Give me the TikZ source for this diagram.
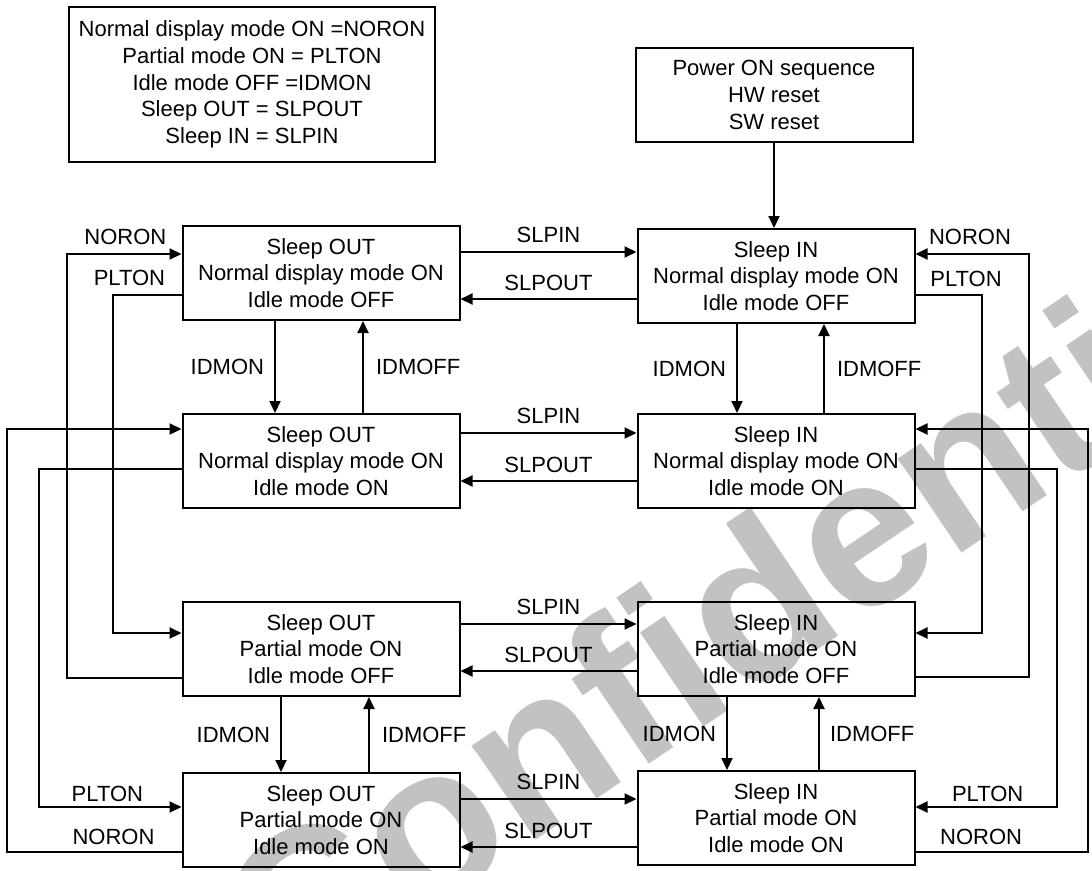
\documentclass[tikz,border=0pt]{standalone}
\usepackage{fontspec}
\setmainfont{Liberation Sans}
\usetikzlibrary{arrows.meta}

\begin{document}
\begin{tikzpicture}[x=1pt,y=-1pt,line width=2pt,>={Triangle[length=12pt,width=11pt]},
  every node/.style={font=\fontsize{22}{26.7}\selectfont,inner sep=2pt},
  state/.style={draw,align=center,minimum width=277pt,minimum height=94pt}]
\useasboundingbox (0,0) rectangle (1092,870);
\node[rotate=34,text=black!24,font=\fontsize{215}{215}\selectfont\bfseries] (wm) at (758,598) {Confidential};

\node[state,minimum width=366pt,minimum height=155pt] (legend) at (252,84.5) {Normal display mode ON =NORON\\Partial mode ON = PLTON\\Idle mode OFF =IDMON\\Sleep OUT = SLPOUT\\Sleep IN = SLPIN};
\node[state] (pwr) at (774,95) {Power ON sequence\\HW reset\\SW reset};

\node[state] (so1) at (321,273) {Sleep OUT\\Normal display mode ON\\Idle mode OFF};
\node[state] (si1) at (776,276) {Sleep IN\\Normal display mode ON\\Idle mode OFF};
\node[state] (so2) at (321,461) {Sleep OUT\\Normal display mode ON\\Idle mode ON};
\node[state] (si2) at (776,461) {Sleep IN\\Normal display mode ON\\Idle mode ON};
\node[state] (so3) at (321,649) {Sleep OUT\\Partial mode ON\\Idle mode OFF};
\node[state] (si3) at (776,649) {Sleep IN\\Partial mode ON\\Idle mode OFF};
\node[state] (so4) at (321,820) {Sleep OUT\\Partial mode ON\\Idle mode ON};
\node[state] (si4) at (776,818) {Sleep IN\\Partial mode ON\\Idle mode ON};

\draw[->] (pwr.south) -- (pwr.south |- si1.north);

\draw[->] (so1.east |- 0,252) -- node[above=6pt] {SLPIN} (si1.west |- 0,252);
\draw[->] (si1.west |- 0,299) -- node[above=5pt] {SLPOUT} (so1.east |- 0,299);
\draw[->] (so2.east |- 0,433) -- node[above=6pt] {SLPIN} (si2.west |- 0,433);
\draw[->] (si2.west |- 0,481) -- node[above=5pt] {SLPOUT} (so2.east |- 0,481);
\draw[->] (so3.east |- 0,624) -- node[above=6pt] {SLPIN} (si3.west |- 0,624);
\draw[->] (si3.west |- 0,671) -- node[above=5pt] {SLPOUT} (so3.east |- 0,671);
\draw[->] (so4.east |- 0,799) -- node[above=6pt] {SLPIN} (si4.west |- 0,799);
\draw[->] (si4.west |- 0,847) -- node[above=5pt] {SLPOUT} (so4.east |- 0,847);

\draw[->] (so1.south -| 275,0) -- node[left=8pt] {IDMON} (so2.north -| 275,0);
\draw[->] (so2.north -| 363,0) -- node[right=10pt] {IDMOFF} (so1.south -| 363,0);
\draw[->] (si1.south -| 737,0) -- node[left=8pt] {IDMON} (si2.north -| 737,0);
\draw[->] (si2.north -| 824,0) -- node[right=10pt] {IDMOFF} (si1.south -| 824,0);
\draw[->] (so3.south -| 281,0) -- node[left=8pt] {IDMON} (so4.north -| 281,0);
\draw[->] (so4.north -| 369,0) -- node[right=10pt] {IDMOFF} (so3.south -| 369,0);
\draw[->] (si3.south -| 727,0) -- node[left=8pt] {IDMON} (si4.north -| 727,0);
\draw[->] (si4.north -| 819,0) -- node[right=8pt] {IDMOFF} (si3.south -| 819,0);

\draw[->] (so3.west |- 0,678) -- (67,678) |- node[pos=0.755,above=6pt] {NORON} (so1.west |- 0,254);
\draw[->] (so1.west |- 0,295) -- node[pos=0.76,above=6pt] {PLTON} (113,295) |- (so3.west |- 0,633);
\draw[->] (so4.west |- 0,852) -- node[pos=0.39,above=4pt] {NORON} (7,852) |- (so2.west |- 0,429);
\draw[->] (so2.west |- 0,469) -- (39,469) |- node[pos=0.74,above=2pt] {PLTON} (so4.west |- 0,807);

\draw[->] (si3.east |- 0,677) -- (1029,677) |- node[pos=0.76,above=6pt] {NORON} (si1.east |- 0,254);
\draw[->] (si1.east |- 0,295) -- node[pos=0.76,above=5pt] {PLTON} (982,295) |- (si3.east |- 0,633);
\draw[->] (si4.east |- 0,852) -- node[pos=0.38,above=4pt] {NORON} (1088,852) |- (si2.east |- 0,429);
\draw[->] (si2.east |- 0,469) -- (1057,469) |- node[pos=0.745,above=2pt] {PLTON} (si4.east |- 0,807);
\end{tikzpicture}
\end{document}
